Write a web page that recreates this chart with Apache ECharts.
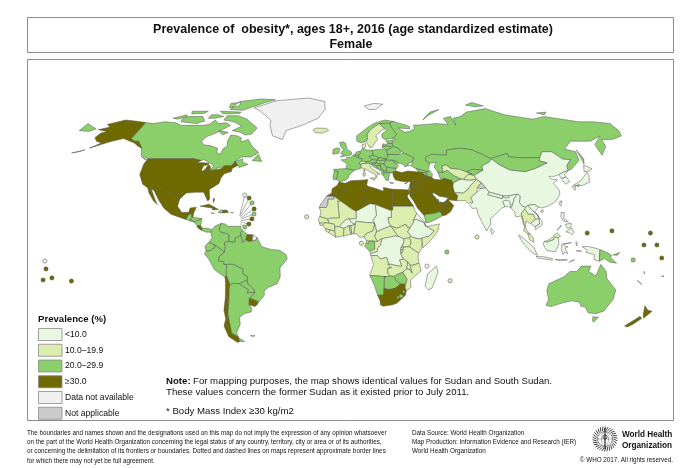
<!DOCTYPE html>
<html><head><meta charset="utf-8">
<style>html,body{margin:0;padding:0;background:#fff}#c{width:700px;height:468px}</style>
<script src="https://cdn.jsdelivr.net/npm/echarts@6/dist/echarts.min.js"></script></head>
<body><div id="c"></div>
<script>
const FONT='"Liberation Sans",Arial,sans-serif';
const NA=100, NOTAPP=200;
const titleLines=['Prevalence of  obesity*, ages 18+, 2016 (age standardized estimate)','Female'];
const legendTitle='Prevalence (%)';
const legendLabels=['<10.0','10.0–19.9','20.0–29.9','≥30.0','Data not available','Not applicable'];
const legendColors=['#E8F7DF','#DBEEAE','#8BCF6B','#6F6A00','#F0F0F0','#CCCCCC'];
const footer=['The boundaries and names shown and the designations used on this map do not imply the expression of any opinion whatsoever',
'on the part of the World Health Organization concerning the legal status of any country, territory, city or area or of its authorities,',
'or concerning the delimitation of its frontiers or boundaries. Dotted and dashed lines on maps represent approximate border lines',
'for which there may not yet be full agreement.'];
const sourceLines=['Data Source: World Health Organization','Map Production: Information Evidence and Research (IER)','World Health Organization'];

// country outlines in longitude/latitude
const outlines={
Canada:"-141 69.6,-135 69,-128 70,-120 69.5,-115 68,-108 68,-100 68,-96 68.5,-94 71,-90 69,-85 69.5,-81 68,-87 64,-93 61.5,-94.5 59,-92.5 57,-88 56.5,-82.5 55,-82 52.5,-79.5 51.5,-79 54.5,-77 56.5,-78 59,-77.5 62.5,-73 62,-70 61,-69 58.5,-65 60,-61 56,-56 52.5,-60 50,-66 50,-70 47,-65 49,-64.5 47,-61 45.8,-66 44,-67 45.2,-69 47.3,-71 45,-75 45,-76.5 44.2,-79.5 43.7,-79 43,-83 42.3,-81.5 45,-84.5 46.8,-88.5 48.5,-90 48,-95 49,-123 49,-128 51,-130 54.5,-130 55,-135 59,-137.5 59,-141 60.3|-80 73.5,-72 71.5,-67 69,-62 66.5,-64 63,-68 62.5,-72 64,-78 65,-73 67.5,-80 70,-88 71,-88 73.5|-117 70,-105 69,-101 70.5,-105 73,-115 73,-118 71.5|-125 72,-118 74,-116 73,-121 71.5|-90 77,-80 76.5,-76 78,-68 81,-62 82.5,-75 83,-90 81.5|-96 76,-80 75.5,-80 74.8,-92 74.5|-100 74,-95 74,-90 73,-95 72,-100 72|-117 76,-105 76,-106 74.8,-115 74.5|-95 80.5,-88 81,-86 79,-92 78|-87 65,-80 64,-83 62.5|-59 48,-56 51.5,-53 47.5|-128 50.5,-123.5 48.5,-125 48.7",
"United States":"-141 69.6,-141 60.3,-137.5 59,-135 59,-130 55,-133 56,-137 58,-146 60.5,-152 59,-155 58,-163 55,-158 58,-162 59,-165 61,-164 63.5,-161 64.5,-168 65.5,-162 67,-166 68.5,-157 71,-150 70.5|-123 49,-95 49,-90 48,-92 46.8,-88 46.8,-84.7 46.5,-84.7 45.8,-87.5 45,-88 43,-87.5 41.7,-86 43,-85 45.5,-83.5 45,-83 43.5,-82.5 43,-83 42.3,-79 42.8,-79 43.2,-76.5 43.5,-75 45,-71 45,-69 47.3,-67 45.2,-70 43.5,-70 41.7,-74 40.5,-75.5 38,-76 35,-81 31.5,-80 26,-81 25,-82.8 28,-84 30,-89 30,-94 29.5,-97.2 26,-99.5 27.5,-101 29.7,-103 29,-106.5 31.8,-111 31.3,-114.8 32.5,-117 32.5,-120.5 34.5,-124 40,-124 46|-172 52.3,-165 54,-168 53",
Greenland:"-73 78,-60 82,-35 83.5,-20 81.5,-18 77,-22 72,-32 68,-42 65,-43 60,-50 62,-54 68,-55 71,-66 76",
Iceland:"-24 65.5,-22 66.4,-15 66.3,-13.6 65,-18 63.5,-22.5 63.9",
Svalbard:"12 79,20 80.5,27 80,20 77,15 77",
Mexico:"-117 32.5,-115.5 29.5,-112 25,-109.5 23,-110.5 24.5,-112.5 28,-114.8 31.8,-113 31,-109.5 26,-105.5 21,-101 17.5,-96 15.8,-92.2 14.5,-91 17,-89.2 17.8,-88.2 18,-87 21.5,-90.5 21,-91 18.6,-95 18.5,-97.8 22,-97.2 26,-99.5 27.5,-101 29.7,-103 29,-106.5 31.8,-111 31.3,-114.8 32.5",
Guatemala:"-92.2 14.5,-91 17,-89.2 17.8,-89 15.9,-88.3 15.7,-89.4 14.4,-90.5 13.9",
Belize:"-89.2 17.8,-88.2 18,-88.3 16,-89 15.9",
Honduras:"-89 15.9,-88.3 15.7,-83.2 15,-87.5 13,-89.4 14.4",
"El Salvador":"-90.5 13.9,-89.4 14.4,-87.7 13.4,-88.5 13.2",
Nicaragua:"-87.5 13,-83.2 15,-83.7 11,-85.7 11.1",
"Costa Rica":"-85.7 11.1,-83.7 11,-82.6 9.5,-83 8.2,-85.5 10",
Panama:"-83 8.2,-82.6 9.5,-79.5 9.5,-77.3 8.6,-77.8 7.3,-80 7.3",
Cuba:"-85 22,-80 23.2,-74.2 20.2,-77.5 19.9,-78 21",
Haiti:"-74.4 18.5,-71.8 18.2,-71.7 19.8,-73 19.9",
"Dominican Republic":"-71.7 19.8,-71.8 18.2,-68.4 18.5,-69.5 19.9",
Jamaica:"-78.3 18.3,-76.3 18,-77 17.8",
"Puerto Rico":"-67.2 18.5,-65.6 18.3,-66 17.9",
Bahamas:"-78 26.5,-77 26,-77.5 24",
Trinidad:"-61.9 10.1,-61 10.7,-60.9 10.1",
Colombia:"-77.3 8.6,-75.5 10.8,-72 12.3,-72.5 11,-73 9,-72 7,-70 7,-67.5 6,-67.5 2,-70 1.5,-69.5 -1,-70 -4.2,-72 -2.5,-75.3 0,-78.8 1.4,-77 4,-77.8 7.3",
Venezuela:"-72 12.3,-70 12,-68 10.6,-62 10.7,-60 8.5,-61 7,-60.7 5.2,-64 4,-64 1.5,-67.5 2,-67.5 6,-70 7,-72 7,-73 9,-72.5 11",
Guyana:"-60 8.5,-57.2 6,-58 3,-59.8 1.3,-60.7 5.2,-61 7",
Suriname:"-57.2 6,-54 5.8,-54.4 2.3,-56.5 1.9,-58 3",
"French Guiana":"-54 5.8,-51.7 4.2,-52.7 2.4,-54.4 2.3",
Ecuador:"-78.8 1.4,-75.3 0,-75.3 -1.5,-78.3 -3.4,-80.3 -3.4,-81 -1,-80 0.5",
Peru:"-80.3 -3.4,-78.3 -3.4,-75.3 -1.5,-75.3 0,-72 -2.5,-70 -4.2,-73 -6.5,-73.5 -9,-70.5 -9.5,-70.5 -11,-69 -11,-69.5 -15.5,-69.5 -17.5,-70.4 -18.3,-76 -14,-79 -8,-81.3 -5",
Brazil:"-60.7 5.2,-59.8 1.3,-58 3,-56.5 1.9,-54.4 2.3,-52.7 2.4,-51.7 4.2,-50 1,-49 -1,-44 -2.5,-39 -3,-35.3 -5.5,-34.8 -8,-39 -13,-39 -18,-41 -22,-46 -24,-48.7 -26,-48.8 -28.5,-52 -32,-53.4 -33.7,-53.2 -32,-55.8 -30.9,-57.6 -30.2,-54 -27,-54.5 -25.5,-55.5 -24,-57.8 -22,-58 -20,-57.5 -18,-60.2 -16.3,-60 -13.7,-65.3 -11,-69 -11,-70.5 -11,-70.5 -9.5,-73.5 -9,-73 -6.5,-70 -4.2,-69.5 -1,-70 1.5,-67.5 2,-64 1.5,-64 4",
Bolivia:"-69 -11,-65.3 -11,-60 -13.7,-60.2 -16.3,-57.5 -18,-58 -20,-62.6 -22,-66.2 -21.8,-68 -22.8,-69.5 -17.5,-69.5 -15.5",
Paraguay:"-58 -20,-57.8 -22,-55.5 -24,-54.5 -25.5,-54.7 -27,-58.6 -27.2,-57.7 -25.3,-60 -24,-62.6 -22",
Chile:"-70.4 -18.3,-69.5 -17.5,-68 -22.8,-68.5 -24.5,-70 -33,-71.5 -39,-71.7 -44,-72 -50,-68.5 -52.3,-68.6 -52.7,-68.6 -54.9,-70 -55.4,-74.5 -52,-75.5 -46,-73.5 -42,-73.5 -37,-71.5 -30,-70.4 -22",
Argentina:"-66.2 -21.8,-62.6 -22,-60 -24,-57.7 -25.3,-58.6 -27.2,-54.7 -27,-54 -27,-57.6 -30.2,-58.3 -34,-57 -36,-57.7 -38,-62 -39,-65 -41,-65.5 -45,-69 -50,-68.5 -52.3,-72 -50,-71.7 -44,-71.5 -39,-70 -33,-68.5 -24.5,-68 -22.8|-68.6 -52.7,-65.5 -54.8,-68.6 -54.9",
Uruguay:"-57.6 -30.2,-55.8 -30.9,-53.2 -32,-53.4 -33.7,-54.9 -35,-58.3 -34",
Falklands:"-61 -51.5,-58 -51.3,-59 -52.2",
"United Kingdom":"-5.5 50,1.3 51.2,1.7 52.7,0 53.5,-1.5 55,-2 57.6,-3.5 58.6,-6 58.2,-5 55.5,-3 54,-4.5 53.2,-5 51.8,-3 51.3",
Ireland:"-10 51.6,-6.2 52.2,-6 54,-5.5 54.6,-7.5 55.3,-10 54.2",
France:"-1.8 43.4,3.1 42.4,7.5 43.8,7 45.9,6 46.4,7.6 47.6,8.2 49,6 49.5,2.5 51,1.5 50,-1.5 49.7,-1.7 48.6,-4.8 48.4,-1.2 46|8.6 42.5,9.5 43,9.3 41.5",
Spain:"-9.3 43,-1.8 43.4,3.1 42.4,0 39.5,-0.5 38,-2 36.8,-5.5 36,-7.4 37.2,-7 39.5,-6.5 41.8,-8.7 42",
Portugal:"-8.7 42,-6.5 41.8,-7 39.5,-7.4 37.2,-9 37,-9.5 38.8",
Belgium:"2.5 51,4.3 51.4,6 50.8,6 49.5",
Netherlands:"3.4 51.4,4.3 51.4,6 50.8,7 52,7 53.3,4.8 53",
Germany:"7 53.3,7 52,6 50.8,6 49.5,8.2 49,7.6 47.6,10 47.4,13 47.6,13.8 48.7,12.2 50.2,15 51,14.3 53.9,11 54,9.5 54.8,8.6 54.9",
Switzerland:"6 46.4,7 45.9,10.4 46.5,10 47.4,7.6 47.6",
Italy:"7.5 43.8,7 45.9,10.4 46.5,13.7 46.5,12.3 45.3,13.5 43.6,16 41.9,18.5 40.2,16.9 40.5,16.5 39,16 38,15.7 40,12.3 41.7,10.3 43|12.5 38,15.6 38.2,15 36.7|8.3 41,9.7 41,9.5 39.2,8.4 39",
Austria:"10 47.4,10.4 46.5,13.7 46.5,16.5 46.6,16.5 47,17 48.1,17 48.6,13.8 48.7,13 47.6",
Czechia:"12.2 50.2,13.8 48.7,17 48.6,18.8 49.5,15 51",
Poland:"14.3 53.9,15 51,18.8 49.5,22.8 49.1,24 50.5,23.7 51.5,23.5 53.9,19.7 54.4",
Slovakia:"17 48.6,17 48.1,18.8 47.9,22.5 48.4,22.8 49.1,18.8 49.5",
Hungary:"16.5 47,17 48.1,18.8 47.9,22.5 48.4,21.2 46.2,18.8 45.9,16.5 46.6",
Slovenia:"13.7 46.5,16.5 46.6,15.2 45.5,13.6 45.5",
Croatia:"13.6 45.5,15.2 45.5,16.5 46.6,18.8 45.9,19 45,16 45,18.4 42.6,15.5 44",
Bosnia:"16 45,19 45,19.3 43.5,18.4 42.6",
Serbia:"19 45,18.8 45.9,21.2 46.2,22.5 44.2,22.5 42.2,20.6 42,20.3 42.7,19.3 43.5",
Montenegro:"18.4 42.6,19.3 43.5,20.3 42.7,19.3 41.9",
Albania:"19.3 41.9,20.3 42.7,20.6 42,21 40.9,20 39.7,19.4 40.5",
Macedonia:"20.6 42,22.5 42.2,22.9 41.3,21 40.9",
Greece:"20 39.7,21 40.9,22.9 41.3,26.3 41.3,24 40.6,23.5 38,23 36.5,21.5 37,21 38.5|23.6 35.5,26.2 35.2,24.8 35",
Bulgaria:"22.5 44.2,28.5 43.6,27.6 42,26.3 41.3,22.9 41.3,22.5 42.2",
Romania:"21.2 46.2,22.5 48.4,26.5 48.2,28.2 46,29.7 45,28.5 43.6,22.5 44.2",
Moldova:"26.5 48.2,29 47.5,30 46.4,28.2 46",
Ukraine:"22.5 48.4,22.8 49.1,24 50.5,23.7 51.5,30.5 51.4,34 52.3,40 49.6,38 47,35 46,36.5 45.3,33.5 44.5,32.5 46,30 46.4,29 47.5,26.5 48.2",
Belarus:"23.7 51.5,23.5 53.9,26.8 55.4,28 56,31 55,32.5 53,30.5 51.4",
Lithuania:"23.5 53.9,21 55.2,21 56.3,26 56.3,26.8 55.4",
Latvia:"21 56.3,21.6 57.5,24 57,24.5 58,27.5 57.5,28 56,26.8 55.4,26 56.3",
Estonia:"23.5 59.2,28 59.4,27.5 57.5,24.5 58",
Denmark:"8.6 54.9,9.5 54.8,10.5 56,10.5 57.7,8.2 57",
Norway:"5 59,5 62,13 67,17 69,25 71,31 70.2,28 69.2,21 69,15 66,12 63,12 60,11 59,8 58",
Sweden:"11 59,12 60,12 63,15 66,21 69,24 66,21.5 65,17.5 62,18.5 60,16.5 58,14.5 55.5,12.8 55.5",
Finland:"21 69,28 69.2,29 66.5,31.5 62.9,28 60.5,23 60,21.5 61,21.5 63,25 65,24 66",
Russia:"31 70.2,41 67.5,41 66,33 66.5,37 64,40 64.5,44 66,44 68,53 68.5,60 69,68 68.5,67 72,73 73,73 68,74 72,80 73,87 75.5,104 77.5,113 74,130 71.5,140 73,160 70,170 70,180 69,180 65,178 62,170 60,163 60,162 56,156 51,156 57,164 62,155 59,142 59,135 54.5,141 53,140 48,133 43,130.7 42.3,131 45,135 48.5,130.5 48.8,126 53,120 53,117 49.7,108 49.5,98 50,98 52,88 49.5,87 49,83 51,77 54,70 55,61 54,60 51,51 51.5,47 50,46.5 48,49 46.5,47.5 43,48.3 41.8,46 41.8,40 43.5,37 45,39 47,38 47,40 49.6,34 52.3,32.5 53,31 55,28 56,27.5 57.5,28 59.4,30 60,28 60.5,31.5 62.9,29 66.5,28 69.2|142 54,143.5 49,142 46,142 50|52 71,57 73.5,68 77,60 75.5,54 72.5|92 79.5,100 81,105 79,98 78.5|138 75,146 75.5,142 74|-180 69,-175 67.5,-170 66,-173 64.5,-180 65",
Georgia:"40 43.5,46 41.8,46 41,43.5 41.2,41.5 41.5",
Armenia:"43.5 41.2,46 41,46.5 39,44.8 39.7",
Azerbaijan:"46 41.8,48.3 41.8,49.5 40.3,48.9 38.4,46.5 39,46 41",
Turkey:"26 40,26.3 41.8,28 42,31.5 41.2,35 42,41.5 41.5,43.5 41.2,44.8 39.7,44.5 37.2,42 37.2,36.5 36.7,36 36,32.5 36,30 36.3,27.3 37,26.4 38.5",
Syria:"36 36,36.5 36.7,42 37.2,41 34.5,38.7 33.3,36 33,35.7 34.7",
Lebanon:"35.7 34.7,36 33,35.1 33.1",
Israel:"35.1 33.1,35.9 33.3,35.4 31.5,35 29.5,34.3 31.3",
Jordan:"36 33,38.7 33.3,39 32,37 31.5,38 30,36 29.3,35 29.5,35.4 31.5,35.9 33.3",
Iraq:"42 37.2,44.5 37.2,46 35,46 33,48.5 30,46.5 29.1,44.7 29.2,41 31.4,39 32,38.7 33.3,41 34.5",
Kuwait:"48.5 30,48.3 28.5,46.5 29.1",
Iran:"44.5 37.2,44.8 39.7,46.5 39,48.9 38.4,50 37.4,54 37,56 38,60.5 36.6,61 35,61 29.7,62.7 28,61.7 25.1,57 25.7,56.5 27,52 27.7,48.5 30,46 33,46 35",
"Saudi Arabia":"35 29.5,36 29.3,38 30,37 31.5,39 32,41 31.4,44.7 29.2,46.5 29.1,48.3 28.5,50 26.7,51 24.6,52 23,55.6 22,55 20,52 19,48.5 18,43.3 17.4,42.7 16.5,39 21,37 25,35 28",
Yemen:"43.3 17.4,48.5 18,52 19,53 16.6,48 14,45 12.8,43.4 12.7,42.7 16.5",
Oman:"55 20,55.6 22,56 24.3,56.4 26.3,59.8 22.5,57.8 19,55 17,53 16.6,52 19",
UAE:"51 24.6,52 23,55.6 22,56 24.3,56.4 25.7,54 24.2",
Qatar:"51 24.6,50.8 26.1,51.6 25.5",
Cyprus:"32.3 35,34.5 35.6,33 34.6",
Turkmenistan:"52.8 41.5,54 37,56 38,60.5 36.6,61 35.6,64.5 37,66.5 37.4,62 39.5,58.5 42.5,56 41.3",
Kazakhstan:"47 50,51 51.5,60 51,61 54,70 55,77 54,83 51,87 49,85 47,80 45,80 42.5,74 43,70 41.5,66 43,61 43.5,58.5 45.5,56 45,56 41.3,52.8 41.5,51 44.5,53 46.8,49 46.5,46.5 48",
Uzbekistan:"56 45,58.5 45.5,61 43.5,66 43,70 41.5,73 40.5,70.8 40.2,68 38,66.5 37.4,62 39.5,58.5 42.5,56 41.3",
Kyrgyzstan:"70 41.5,74 43,80 42.5,74 39.5,70.8 40.2,73 40.5",
Tajikistan:"68 38,70.8 40.2,74 39.5,75 37.3,71.5 36.8,67.8 37",
Afghanistan:"60.5 33.5,61 35,64.5 37,66.5 37.4,67.8 37,71.5 36.8,75 37.3,71 34,69 31.5,66 29.5,61 29.7",
Pakistan:"61 29.7,66 29.5,69 31.5,71 34,75 37.3,77.5 35.5,74.5 32.5,74 30,70 27,71 24.3,68 23.7,66.5 25.3,61.7 25.1,62.7 28",
Kashmir:"74.5 32.5,77.5 35.5,79.5 32.5,76.5 32",
India:"71 24.3,70 27,74 30,76.5 32,79.5 32.5,81 30.2,80 28.6,88 26.4,88.5 28,92 28,97 29,95 26.5,93 22,91.5 24.5,92 25,89.5 25.5,88 24.5,89 21.7,87 21,82 16.5,80 15,80 12,77.5 8,76 11,73 18,72.8 21,70 20.8,69 22.5",
Nepal:"80 28.6,81 30.2,88.5 28,88 26.4",
Bhutan:"88.5 28,92 28,92 26.8,89 26.8",
Bangladesh:"88 24.5,89.5 25.5,92 25,91.5 24.5,92.3 21,90.5 22,89 21.7",
"Sri Lanka":"80 9.7,81.8 7.5,80.5 6,79.8 7.5",
China:"74 39.5,80 42.5,80 45,85 47,87 49,91 45.5,96 42.7,105 41.7,111.5 43.5,120 46.7,115.5 47.8,117 49.7,120 53,126 53,130.5 48.8,135 48.5,131 45,130.7 42.3,128 41.5,124.3 40,121 39,118 39,119 37.5,122.5 37,119.5 35,122 31,121.5 28.5,118 24.5,114 22.3,110 21,108 21.5,106 23,102 22.5,101.5 21.2,99 22,97.5 24,98.5 27.7,97 29,92 28,88.5 28,81 30.2,79.5 32.5,77.5 35.5,75 37.3|108.7 19.2,110.5 20,110 18.3|121 25,122 25,120.8 22,120.2 23",
Mongolia:"87 49,91 45.5,96 42.7,105 41.7,111.5 43.5,120 46.7,115.5 47.8,117 49.7,108 49.5,98 50,98 52,88 49.5",
"North Korea":"124.3 40,128 41.5,130.7 42.3,127.5 39.7,128.3 38.6,125 37.8",
"South Korea":"125 37.8,128.3 38.6,129.4 36,126.5 34.5",
Japan:"131 34,136 36.5,140 40,141.5 41.3,142 39.5,140.8 35.7,136 33.8|140 41.5,141.5 45.5,145.5 43.3,143 42|129.8 33.3,132 33.5,131 31|132.5 33.8,134.5 34.2,133.5 33",
Myanmar:"92.3 21,93 22,95 26.5,97 29,98.5 27.7,97.5 24,99 22,101 21.5,100 20.4,97.8 18,98.5 14,99 10.5,98 14,97.5 16.5,94.5 16,94 19",
Thailand:"100 20.4,101 19,101.5 17.7,104.5 17.5,105.5 14.5,102.5 12.2,101 13,100 13.5,99.5 10,100.3 8,102 6,100.5 6.5,98.3 8,99 10.5,98.5 14,97.8 18",
Laos:"101 21.5,101.5 21.2,102 22.5,104 20,107 17,107.5 15,105.5 14.5,104.5 17.5,101.5 17.7,101 19,100 20.4",
Vietnam:"102 22.5,106 23,108 21.5,105.7 19,109 13.5,109 11.5,105 8.7,104.8 10.4,107.5 12,107.5 15,107 17,104 20",
Cambodia:"105.5 14.5,107.5 15,107.5 12,104.8 10.4,102.5 12.2",
Malaysia:"100.5 6.5,102 6,103.5 4,104 1.4,101.5 2.9|109.7 2,111 1.5,115 3,115.5 4.5,117.5 4.2,119 5,117 7,115 5.3,113 3.2",
Indonesia:"109 1,109.7 2,111 1.5,115 3,115.5 4.5,117.5 4.2,118 1,116 -4,111 -3,110 -1.5|95.3 5.6,98 4,104 -1.5,106 -5.8,104 -5,100.5 -2,97.5 1.5|105.2 -6.5,108.5 -6.5,114.5 -7.7,114.5 -8.6,106.5 -7.5|119.5 0.5,125 1.4,120.5 0.3,121.5 -1,123 -1,121.5 -2,123 -5,121 -4,120.4 -5.5,119.5 -3.5|116 -8.3,119 -8.2,123 -8.4,119 -9|124 -10,127 -8.4,125 -8.9|131 -1,134 -0.8,138 -1.7,141 -2.6,141 -9.2,138 -8.3,138 -5.5,133 -4,134 -3|127.5 2,128.5 1,127.7 -0.5|128 -3,130.8 -3.5,128 -3.6",
Philippines:"120.5 18.5,122.2 18.4,121.5 15,124 13,121 13.8,120 16|122 7.5,125.5 9.7,126.5 7,125.4 5.8,124 7|122 11.8,125.5 12.3,125 10,123 9.5|117.2 8.4,119.5 11.3,119.3 10.2",
"Papua New Guinea":"141 -2.6,145 -4.3,147.8 -6,147 -7,150.8 -10.3,147 -9.8,144 -7.7,141 -9.2|148.5 -5.7,152.2 -4.2,151 -5.8",
Australia:"114 -22,122 -18,125 -15,129 -15,131 -12,136.5 -12,135.5 -15,140 -17.5,142 -11,145.5 -15,146.5 -19,153 -25.5,153 -31,150 -37.5,146 -39,141 -38.5,138 -35,135.5 -34.8,134 -32.5,129 -31.7,124 -33,118 -35,115 -34.3,115.7 -31,113.5 -26|144.8 -40.8,148.3 -41,147 -43.5,146 -43.5",
"New Zealand":"172.8 -34.5,175.5 -37,178.4 -37.7,177 -39.5,175.3 -41.6,174 -39.3|172.7 -40.5,174.3 -41.7,171 -45,168.5 -46.6,166.5 -46,171 -42",
"New Caledonia":"164 -20,167 -22.3,166 -21.8",
Vanuatu:"166.7 -15,167.5 -16.5,167 -15.5",
Fiji:"177.3 -17.5,178.7 -17.7,178 -18.2",
Morocco:"-5.9 35.8,-2.2 35.1,-1.2 32.5,-5 30,-8.7 28.7,-8.7 27.7,-13 27.7,-10 29.5,-9.8 32,-6.8 34",
"Western Sahara":"-13 27.7,-8.7 27.7,-8.7 26,-12 26,-12 23.4,-13 21.3,-17 21.3,-16 23.5,-14.8 25",
Algeria:"-2.2 35.1,1 36.5,8.6 36.9,8.3 33,9.5 30.2,10 24.5,12 23.5,4 19.1,1.2 20.7,-4.8 25,-8.7 27.7,-8.7 28.7,-5 30,-1.2 32.5",
Tunisia:"8.6 36.9,11 37.2,10.3 34,11.5 33.2,9.5 30.2,8.3 33",
Libya:"11.5 33.2,15 32.3,20 30.5,20 32.7,25 31.7,25 22,25 20,24 19.5,15 23,12 23.5,10 24.5,9.5 30.2",
Egypt:"25 31.7,31 31.5,34.3 31.3,34.8 29.5,33.6 27.9,32.6 30,34 26.5,36.9 22,25 22",
Sudan:"24 19.5,25 20,25 22,36.9 22,37.3 20,38.5 18,36.5 14.3,36.3 12.5,34.5 10,33 10,32 11.8,27 9.5,23.5 10.8,22.5 12.5,22 15.5,24 15.7",
"South Sudan":"23.5 10.8,27 9.5,32 11.8,33 10,34.5 10,33 7.5,35 5,34 4.2,30.8 3.5,27.5 5",
Chad:"15 23,24 19.5,24 15.7,22 15.5,22.5 12.5,23.5 10.8,18.8 9,15.5 7.5,15 10,14.2 12.5,13.5 14,15.5 16.8",
Niger:"12 23.5,15 23,15.5 16.8,13.5 14,14.2 12.5,9.5 12.8,4 13.5,3.6 11.7,1 13,0 14.9,4 15,4 19.1",
Mali:"-4.8 25,1.2 20.7,4 19.1,4 15,0 14.9,-2 14.2,-5.5 10.5,-8 10.3,-8.3 11.8,-11.4 12.4,-12.2 14.8,-10 15.4,-5.5 15.5,-6.5 25",
Mauritania:"-8.7 27.7,-4.8 25,-6.5 25,-5.5 15.5,-10 15.4,-12.2 14.8,-16.5 16.1,-16 19,-17 21.3,-13 21.3,-12 23.4,-12 26,-8.7 26",
Senegal:"-16.5 16.1,-12.2 14.8,-11.4 12.4,-16.7 12.4,-17.4 14.7",
"Guinea-Bissau":"-16.7 12.4,-13.7 12.6,-13.7 11.7,-16.2 11",
Guinea:"-13.7 12.6,-11.4 12.4,-8.3 11.8,-8 10.3,-8 8,-10.5 8.5,-13.3 9.3,-15 10.9",
"Sierra Leone":"-13.3 9.3,-10.5 8.5,-11.4 7,-13.2 8",
Liberia:"-11.4 7,-10.5 8.5,-8 8,-7.5 4.4",
"Ivory Coast":"-8 8,-8 10.3,-5.5 10.5,-2.8 9.5,-3 5.1,-7.5 4.4",
"Burkina Faso":"-5.5 10.5,-2 14.2,0 14.9,1 13,3.6 11.7,1 11,0 11,-2.8 9.5",
Ghana:"-2.8 9.5,0 11,1 6.1,-3 5.1",
Togo:"0 11,1 11,1.6 6.2,1 6.1",
Benin:"1 11,3.6 11.7,2.7 6.4,1.6 6.2",
Nigeria:"2.7 6.4,3.6 11.7,4 13.5,9.5 12.8,14.2 12.5,14.5 11.5,13.5 8,9.8 6.5,8.5 4.6,6 4.3,4.5 6.3",
Cameroon:"14.2 12.5,15 10,15.5 7.5,14.5 4.8,16 2,13 2.2,9.8 2.3,8.5 4.6,9.8 6.5,13.5 8,14.5 11.5",
"Central African Republic":"15.5 7.5,18.8 9,23.5 10.8,27.5 5,25 5,23 4.5,18.6 3.6,16 2,14.5 4.8",
"Equatorial Guinea":"9.8 2.3,11.3 2.2,11.3 1,9.5 1",
Gabon:"9.5 1,11.3 1,11.3 2.2,13 2.2,14.4 1.5,14.5 -2.3,11.7 -3.7,8.8 -0.7",
Congo:"13 2.2,16 2,18.6 3.6,17.8 0,16 -2,16 -3.7,12 -5,11.7 -3.7,14.5 -2.3,14.4 1.5",
"DR Congo":"18.6 3.6,23 4.5,25 5,27.5 5,30.8 3.5,31 2,29.7 -0.5,29 -4.5,30.5 -8,28.5 -8.5,29.8 -12,28.5 -12,27 -11.8,24 -11,22 -11,22 -9.5,21 -7,17.6 -8,16 -6,12.3 -6,12 -5,16 -3.7,16 -2,17.8 0",
Uganda:"30.8 3.5,34 4.2,35 1.5,33.9 -1,29.7 -1,31 2",
Kenya:"34 4.2,35 5,36 4.4,39.5 3.5,41 4,41 -1.7,39.2 -4.7,33.9 -1,35 1.5",
Rwanda:"29 -1.5,30.7 -1.2,30.5 -2.4,29 -2.8",
Burundi:"29 -2.8,30.5 -2.4,30 -4.3,29.4 -4.5",
Tanzania:"33.9 -1,39.2 -4.7,38.8 -6.5,39.5 -10.3,36 -11.5,34.5 -11.5,33 -9.5,30.5 -8,29 -4.5,30 -4.3,30.7 -1.2",
Ethiopia:"36.5 14.3,38.5 14.5,42.5 12.5,43 11,48 8,45 5,41.5 4,39.5 3.5,36 4.4,35 5,33 7.5,34.5 10,36.3 12.5",
Eritrea:"38.5 18,43 12.8,42.5 12.5,38.5 14.5,36.5 14.3",
Djibouti:"42.5 12.5,43.3 12,43 11",
Somalia:"43 11,44 10.5,51 12,50 8,46 2.7,41.5 -1.7,41 -1.7,41 4,41.5 4,45 5,48 8",
Angola:"12.3 -6,16 -6,17.6 -8,21 -7,22 -9.5,22 -11,24 -11,24 -13,22 -13,22 -16,23.4 -17.6,21 -18,14 -17.4,11.8 -17.3,13.8 -11,13 -8.5",
Zambia:"22 -11,24 -11,27 -11.8,28.5 -12,29.8 -12,28.5 -8.5,30.5 -8,33 -9.5,32.7 -13.5,30.4 -15.5,28 -16.5,25.3 -17.8,23.4 -17.6,22 -16,22 -13,24 -13",
Malawi:"33 -9.5,34.5 -11.5,35.8 -16,34.5 -14,32.7 -13.5",
Mozambique:"34.5 -11.5,36 -11.5,39.5 -10.3,40.8 -14.7,37 -18,35 -20,35.5 -24,32.9 -26,32 -24.5,33 -19.5,30.4 -15.5,32.7 -13.5,34.5 -14,35.8 -16",
Zimbabwe:"25.3 -17.8,28 -16.5,30.4 -15.5,33 -19.5,32 -22.3,29.4 -22.2,27 -20.5",
Botswana:"20 -18,21 -18,23.4 -17.6,25.3 -17.8,27 -20.5,29.4 -22.2,26.5 -24.6,23 -25.3,20 -24.8,20 -22",
Namibia:"11.8 -17.3,14 -17.4,21 -18,20 -18,20 -22,20 -24.8,20 -28.4,16.5 -28.6,14.5 -23",
"South Africa":"16.5 -28.6,20 -28.4,20 -24.8,23 -25.3,26.5 -24.6,29.4 -22.2,32 -22.3,32 -24.5,32.9 -26,32.5 -28.5,28 -33,25.5 -34,20 -34.8,18.3 -34,18 -31.5",
Lesotho:"27.2 -29.6,29 -28.8,29.3 -30,28 -30.5",
Eswatini:"30.9 -26,32 -26,32 -27.2,31 -27.2",
Madagascar:"49.3 -12,50.5 -15.5,47.5 -24.5,45.5 -25.5,43.5 -23.5,44.5 -16.5"
};

// estimated prevalence per country, split by the band read from the map
const countries=Object.keys(outlines);
const veryHigh=['United States','Mexico','Belize','Costa Rica','Cuba','Bahamas','Dominican Republic','Trinidad','Suriname','Chile','Uruguay','Morocco','Algeria','Tunisia','Libya','Egypt','Turkey','Syria','Lebanon','Jordan','Iraq','Kuwait','Iran','Saudi Arabia','Oman','UAE','Qatar','South Africa','New Zealand'];
const midLow=['Iceland','Switzerland','Italy','Denmark','Sweden','Uzbekistan','Tajikistan','Pakistan','Thailand','Malaysia','Mauritania','Mali','Senegal','Guinea','Sierra Leone','Liberia','Ivory Coast','Ghana','Togo','Benin','Nigeria','Cameroon','Central African Republic','Equatorial Guinea','Congo','Sudan','South Sudan','Kenya','Uganda','Rwanda','Burundi','Tanzania','Somalia','Angola','Zambia','Malawi','Mozambique','Guinea-Bissau','Djibouti','Eswatini'];
const veryLow=['China','India','Japan','North Korea','South Korea','Nepal','Bhutan','Bangladesh','Sri Lanka','Afghanistan','Myanmar','Laos','Vietnam','Cambodia','Indonesia','Philippines','Niger','Chad','Burkina Faso','Ethiopia','Eritrea','DR Congo','Madagascar'];
const notAvailable=['Greenland','Svalbard','French Guiana','Puerto Rico','Falklands'];
const notApplicable=['Western Sahara','Kashmir'];
const bandValue={veryHigh:35,high:25,midLow:15,veryLow:7};
function valueOf(n){
  if(veryHigh.includes(n))return bandValue.veryHigh;
  if(midLow.includes(n))return bandValue.midLow;
  if(veryLow.includes(n))return bandValue.veryLow;
  if(notAvailable.includes(n))return NA;
  if(notApplicable.includes(n))return NOTAPP;
  return bandValue.high;
}
// small island states: lon, lat, value
const islands=[[-171.3,-9.1,NA],[-171.2,-13.6,35],[-174,-19.9,35],[-168.7,-18.7,35],[-158,-20.5,35],
[-60,28.4,NA],[-57.4,26.7,35],[-55.5,23.9,25],[-54,20.5,35],[-53.9,17.6,25],[-54.9,14.8,35],[-56.5,11.9,35],[-58.7,10.2,25],
[134,6.8,35],[148,8,35],[169.6,6.8,35],[165.7,0,35],[173,0,35],[176,-7.4,35],[160,-8.5,25],
[72,4.5,15],[55,-4,25],[44,-12,7],[57.5,-20.3,15],[7,1,15],[-24,16,15],[30,-29,25]];
// leader lines of the Caribbean call-out
const leaderFrom=[[-61.9,17],[-61.8,16.5],[-61.5,15.9],[-61.2,15.3],[-61,14.7],[-61,13.9],[-61.3,13.2],[-61.6,12.2]];
const leaderTo=[[-60,28.4],[-57.4,26.7],[-55.5,23.9],[-54,20.5],[-53.9,17.6],[-54.9,14.8],[-56.5,11.9],[-58.7,10.2]];

const project=p=>{const f=Math.pow(Math.max(Math.cos(p[1]*Math.PI/180),.001),.2);return[349+1.78*p[0]*f,245-1.76*p[1]];};
const unproject=q=>{const lat=(245-q[1])/1.76;const f=Math.pow(Math.max(Math.cos(lat*Math.PI/180),.001),.2);return[(q[0]-349)/(1.78*f),lat];};
const features=countries.map(n=>({type:'Feature',properties:{name:n},geometry:{type:'MultiPolygon',coordinates:outlines[n].split('|').map(r=>{const ring=r.split(',').map(s=>s.trim().split(' ').map(Number));ring.push(ring[0]);return[ring];})}}));
echarts.registerMap('world',{type:'FeatureCollection',features});
let x0=1e9,x1=-1e9,y0=1e9,y1=-1e9;
features.forEach(f=>f.geometry.coordinates.forEach(r=>r[0].forEach(p=>{const q=project(p);x0=Math.min(x0,q[0]);x1=Math.max(x1,q[0]);y0=Math.min(y0,q[1]);y1=Math.max(y1,q[1]);})));

const graphics=[];
const frame=(x,y,w,h)=>graphics.push({type:'rect',shape:{x,y,width:w,height:h},silent:true,style:{fill:'none',stroke:'#8c8c8c',lineWidth:1}});
frame(27.5,17.5,646,35);frame(27.5,59.5,646,361);
const text=(x,y,t,size,opt)=>graphics.push({type:'text',x,y,silent:true,style:Object.assign({text:t,font:(opt&&opt.weight||'normal')+' '+size+'px '+FONT,fill:'#111',textBaseline:'middle',verticalAlign:'middle'},opt||{})});
text(353,30,titleLines[0],12.5,{weight:'bold',align:'center',textAlign:'center'});
text(351,45,titleLines[1],12.5,{weight:'bold',align:'center',textAlign:'center'});
text(38,319,legendTitle,9.6,{weight:'bold'});
text(166,381,'Note:',9.65,{weight:'bold'});
text(193,381,'For mapping purposes, the map shows identical values for Sudan and South Sudan.',9.65);
text(166,392,'These values concern the former Sudan as it existed prior to July 2011.',9.65);
text(166,411,'* Body Mass Index ≥30 kg/m2',9.65);
footer.forEach((l,i)=>text(27,433+i*9.3,l,6.3));
sourceLines.forEach((l,i)=>text(412,433+i*9,l,6.3));
text(622,435,'World Health',8.2,{weight:'bold'});
text(622,445.5,'Organization',8.2,{weight:'bold'});
text(673,460,'© WHO 2017. All rights reserved.',6.3,{align:'right',textAlign:'right'});
for(let i=0;i<6;i++)graphics.push({type:'rect',z:20,silent:true,shape:{x:38.5,y:328.5+i*15.75,width:23.5,height:12},style:{fill:'none',stroke:'#8a8a8a',lineWidth:.8}});
// WHO emblem
const ecx=605,ecy=439;
for(let i=0;i<30;i++){const a=i/30*Math.PI*2;graphics.push({type:'line',silent:true,shape:{x1:ecx+8.5*Math.cos(a),y1:ecy+8.5*Math.sin(a),x2:ecx+12.5*Math.cos(a+.15),y2:ecy+12.5*Math.sin(a+.15)},style:{stroke:'#444',lineWidth:1}});}
graphics.push({type:'circle',silent:true,shape:{cx:ecx,cy:ecy,r:7.5},style:{fill:'#fff',stroke:'#444',lineWidth:.7}});
graphics.push({type:'ellipse',silent:true,shape:{cx:ecx,cy:ecy,rx:3.5,ry:7.5},style:{fill:'none',stroke:'#666',lineWidth:.5}});
graphics.push({type:'line',silent:true,shape:{x1:ecx-7.5,y1:ecy,x2:ecx+7.5,y2:ecy},style:{stroke:'#666',lineWidth:.5}});
graphics.push({type:'line',silent:true,shape:{x1:ecx,y1:ecy-11,x2:ecx,y2:ecy+10},style:{stroke:'#222',lineWidth:1.2}});
graphics.push({type:'circle',silent:true,shape:{cx:ecx,cy:ecy-2,r:2},style:{fill:'none',stroke:'#222',lineWidth:.8}});

const chart=echarts.init(document.getElementById('c'),null,{renderer:'canvas'});
chart.setOption({
  animation:false,backgroundColor:'#fff',
  geo:{map:'world',projection:{project,unproject},left:x0,top:y0,width:x1-x0,height:y1-y0,roam:false,silent:true,
    label:{show:false},itemStyle:{borderColor:'#555',borderWidth:.5,areaColor:'#F0F0F0'},emphasis:{disabled:true}},
  visualMap:{type:'piecewise',seriesIndex:[0,1],left:38.5,top:328.5,padding:0,orient:'vertical',inverse:true,itemWidth:23.5,itemHeight:12,itemGap:3.75,itemSymbol:'rect',align:'left',textGap:3,showLabel:true,selectedMode:false,
    textStyle:{fontFamily:FONT,fontSize:8.6,color:'#111'},
    pieces:[{min:0,lt:10,label:legendLabels[0],color:legendColors[0]},{min:10,lt:20,label:legendLabels[1],color:legendColors[1]},{min:20,lt:30,label:legendLabels[2],color:legendColors[2]},{min:30,lt:50,label:legendLabels[3],color:legendColors[3]},{min:50,lt:150,label:legendLabels[4],color:legendColors[4]},{min:150,label:legendLabels[5],color:legendColors[5]}]},
  series:[
    {type:'map',geoIndex:0,silent:true,data:countries.map(n=>({name:n,value:valueOf(n)}))},
    {type:'scatter',coordinateSystem:'geo',silent:true,symbolSize:4.2,z:5,itemStyle:{borderColor:'#444',borderWidth:.5,opacity:1},data:islands},
    {type:'lines',coordinateSystem:'geo',silent:true,z:3,lineStyle:{color:'#777',width:.6,opacity:1,curveness:0},data:leaderFrom.map((a,i)=>({coords:[a,leaderTo[i]]}))}
  ],
  graphic:graphics
});
</script></body></html>
